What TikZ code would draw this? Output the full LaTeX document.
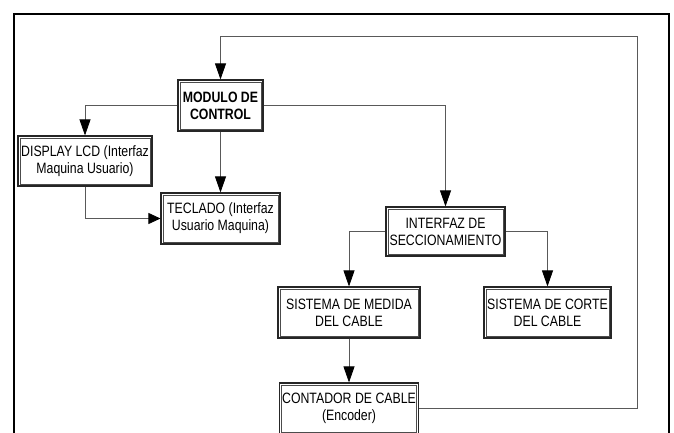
\documentclass[tikz,border=0pt]{standalone}
\usepackage{fontspec}
\newfontfamily\narrowfont{Liberation Sans}[FakeStretch=0.82]
\usetikzlibrary{arrows.meta,calc}
\begin{document}
\begin{tikzpicture}[x=1pt,y=-1pt,
  blk/.style={draw=black!85, line width=1.1pt, fill=white, align=center, inner sep=0pt,
    font=\narrowfont\fontsize{15}{17}\selectfont},
  inbox/.style={draw=black!70, line width=0.6pt},
  conn/.style={draw=black!65, line width=0.8pt},
  varr/.style={conn, -{Triangle[length=16pt,width=11pt,color=black]}},
  harr/.style={conn, -{Triangle[length=12pt,width=11pt,color=black]}}
]
\useasboundingbox (0,0) rectangle (674,433);
\fill[white] (0,0) rectangle (674,433);
% outer frame
\draw[line width=2pt, black] (14,434) -- (14,14) -- (669,14) -- (669,434);

\node[blk, minimum width=85pt, minimum height=51pt] (mod) at (220.5,105.5) {\bfseries MODULO DE\\\bfseries CONTROL};
\node[blk, minimum width=134pt, minimum height=50pt] (disp) at (85,161) {DISPLAY LCD (Interfaz\\Maquina Usuario)};
\node[blk, minimum width=119pt, minimum height=51pt] (tec) at (220.5,218.5) {TECLADO (Interfaz\\Usuario Maquina)};
\node[blk, minimum width=119pt, minimum height=49pt] (int) at (445.5,231.5) {INTERFAZ DE\\SECCIONAMIENTO};
\node[blk, minimum width=142pt, minimum height=51pt] (med) at (349,312.5) {SISTEMA DE MEDIDA\\DEL CABLE};
\node[blk, minimum width=127pt, minimum height=51pt] (cor) at (547.5,312.5) {SISTEMA DE CORTE\\DEL CABLE};
\node[blk, minimum width=139pt, minimum height=51pt] (cont) at (349,408.5) {CONTADOR DE CABLE\\(Encoder)};

\foreach \n in {mod,disp,tec,int,med,cor,cont}
  \draw[inbox] ($(\n.north west)+(2.6,2.6)$) rectangle ($(\n.south east)+(-2.6,-2.6)$);

\coordinate (fbr) at (637,36);
\draw[varr] (cont.east) -| (fbr) -| (mod.north);
\draw[varr] (mod.west) -| (disp.north);
\draw[varr] (mod.east) -| (int.north);
\draw[varr] (mod.south) -- (tec.north);
\draw[harr] (disp.south) |- (tec.west);
\draw[varr] (int.west) -| (med.north);
\draw[varr] (int.east) -| (cor.north);
\draw[varr] (med.south) -- (cont.north);
\end{tikzpicture}
\end{document}
